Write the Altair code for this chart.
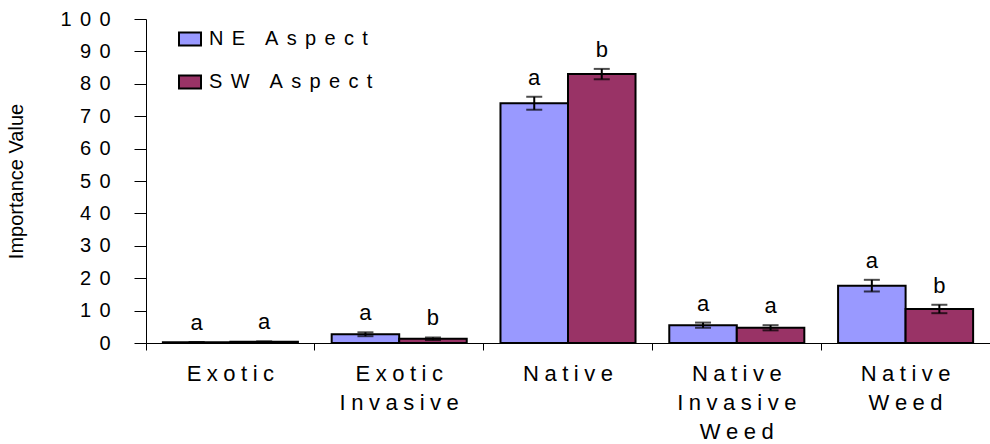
import altair as alt
import pandas as pd

categories = ["Exotic", "Exotic Invasive", "Native", "Native Invasive Weed", "Native Weed"]
label_lines = [["Exotic"], ["Exotic", "Invasive"], ["Native"], ["Native", "Invasive", "Weed"], ["Native", "Weed"]]
series = ["NE Aspect", "SW Aspect"]
ne_values = [0.2, 2.7, 74.0, 5.5, 17.7]
sw_values = [0.4, 1.3, 83.0, 4.7, 10.5]
ne_err = [0.1, 0.6, 2.0, 0.8, 1.8]
sw_err = [0.1, 0.4, 1.6, 0.8, 1.3]
ne_letters = ["a", "a", "a", "a", "a"]
sw_letters = ["a", "b", "b", "a", "b"]
y_ticks = list(range(0, 101, 10))

colors = ["#9999FF", "#993366"]
FONT = "Liberation Sans, Arial"


def spaced(s, gap=" ", wordgap="\u00a0\u00a0\u00a0"):
    return wordgap.join(gap.join(list(w)) for w in s.split(" "))


rows = []
for i, c in enumerate(categories):
    for s, vals, errs, lets in [(series[0], ne_values, ne_err, ne_letters),
                                (series[1], sw_values, sw_err, sw_letters)]:
        rows.append({"cat": c, "series": s, "value": vals[i],
                     "lo": vals[i] - errs[i], "hi": vals[i] + errs[i],
                     "letter": lets[i]})
df = pd.DataFrame(rows)

# label expressions
x_expr = ""
for c, lines in zip(categories, label_lines):
    arr = "[" + ",".join("'" + spaced(l, gap="\u2005") + "'" for l in lines) + "]"
    x_expr += f"datum.label=='{c}'?{arr}:"
x_expr += "datum.label"

y_expr = ""
for t in y_ticks:
    y_expr += f"datum.value=={t}?'" + "\u2005\u2006".join(list(str(t))) + "':"
y_expr += "datum.label"

leg_expr = ""
for s in series:
    leg_expr += f"datum.label=='{s}'?'" + spaced(s, gap="\u2005\u2006", wordgap="\u2003") + "':"
leg_expr += "datum.label"

x = alt.X("cat:N", sort=categories, title=None,
          scale=alt.Scale(paddingInner=0, paddingOuter=0),
          axis=alt.Axis(labelAngle=0, labelExpr=x_expr, labelFontSize=22, labelFont=FONT,
                        labelColor="black", labelLineHeight=29, labelPadding=13,
                        bandPosition=0, tickSize=7, tickColor="black", domainColor="black",
                        labelBaseline="top", grid=False, labelOverlap=False))
xo = alt.XOffset("series:N", sort=series, scale=alt.Scale(paddingInner=0, paddingOuter=0.25))

y_scale = alt.Scale(domain=[0, 100], nice=False)
y_axis = alt.Axis(values=y_ticks, tickCount=11, labelExpr=y_expr, labelFontSize=20, labelFont=FONT,
                  labelColor="black", tickSize=12, tickColor="black",
                  domainColor="black", grid=False, labelPadding=24, labelOverlap=False,
                  titleFont=FONT, titleFontSize=20, titleFontWeight="normal",
                  titleColor="black", titlePadding=33)
Y_TITLE = "Importance Value"

bars = alt.Chart(df).mark_bar(stroke="black", strokeWidth=2).encode(
    x=x, xOffset=xo,
    y=alt.Y("value:Q", scale=y_scale, title=Y_TITLE, axis=y_axis),
    color=alt.Color("series:N", sort=series,
                    scale=alt.Scale(domain=series, range=colors),
                    legend=alt.Legend(title=None, orient="none", legendX=32, legendY=8,
                                      symbolType="M-1,-0.59H1V0.59H-1Z", symbolSize=484,
                                      symbolStrokeColor="black", symbolStrokeWidth=2,
                                      labelExpr=leg_expr, labelFontSize=20, labelFont=FONT,
                                      labelColor="black", labelLimit=400, rowPadding=20,
                                      labelOffset=7)),
)

rules = alt.Chart(df).mark_rule(color="black", strokeWidth=2).encode(
    x=x, xOffset=xo, y=alt.Y("lo:Q", scale=y_scale, title=Y_TITLE, axis=y_axis), y2="hi:Q")

caps_lo = alt.Chart(df).mark_tick(color="black", thickness=2, size=16, orient="horizontal").encode(
    x=x, xOffset=xo, y=alt.Y("lo:Q", scale=y_scale, title=Y_TITLE, axis=y_axis))
caps_hi = alt.Chart(df).mark_tick(color="black", thickness=2, size=16, orient="horizontal").encode(
    x=x, xOffset=xo, y=alt.Y("hi:Q", scale=y_scale, title=Y_TITLE, axis=y_axis))

letters = alt.Chart(df).mark_text(fontSize=22, font=FONT, color="black", dy=-12,
                                  baseline="alphabetic").encode(
    x=x, xOffset=xo, y=alt.Y("hi:Q", scale=y_scale, title=Y_TITLE, axis=y_axis), text="letter:N")

chart = alt.layer(bars, rules, caps_lo, caps_hi, letters).properties(
    width=844, height=324,
    autosize=alt.AutoSizeParams(type="none"),
    padding={"left": 146, "top": 19, "right": 0, "bottom": 101},
).configure_view(stroke=None).configure_axis(domainWidth=1, tickWidth=1)

chart.save("out.html", embed_options={"renderer": "svg", "actions": False})
